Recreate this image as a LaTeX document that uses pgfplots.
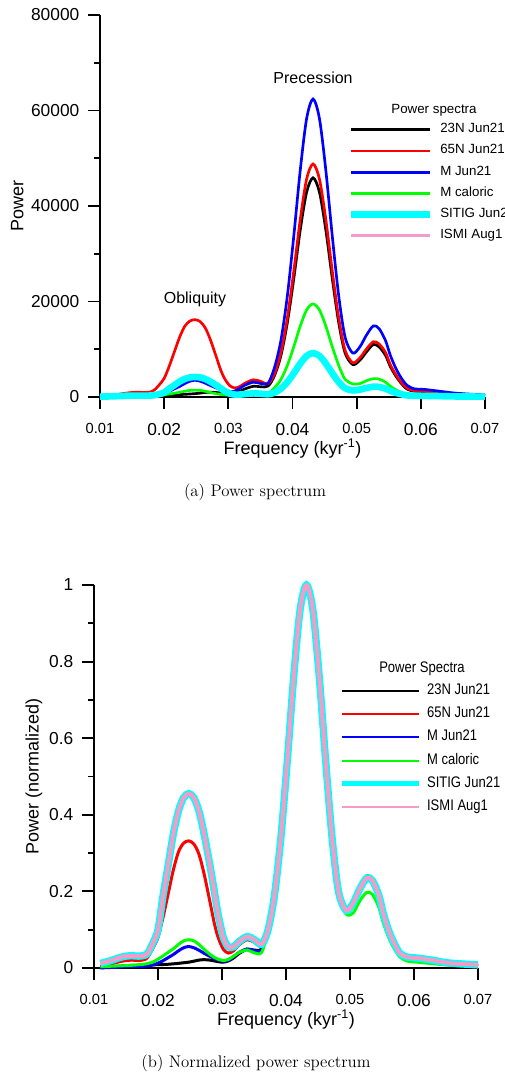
\documentclass[border=0pt]{standalone}
\usepackage{fontspec}
\newfontfamily\arial{Liberation Sans}
\newfontfamily\arialn[FakeStretch=0.85]{Liberation Sans}
\usepackage{pgfplots}
\usepackage{pgfplotstable}
\pgfplotsset{compat=1.18}

\definecolor{lgreen}{RGB}{0,255,0}
\definecolor{lcyan}{RGB}{0,255,255}
\definecolor{lpink}{RGB}{245,155,200}
\newcommand\sm{\fontsize{11}{11}\selectfont}

% frequency (kyr^-1) and power: A 23N Jun21, B 65N Jun21, C M Jun21, D M caloric, E SITIG Jun21 (ISMI Aug1 lies on it)
\pgfplotstableread{
f A B C D E
0.0100 0 50 0 50 75
0.0110 30 200 20 60 110
0.0120 80 400 60 80 150
0.0130 150 600 100 95 195
0.0140 220 800 150 110 250
0.0150 280 950 200 120 285
0.0160 310 1000 230 140 295
0.0170 330 950 260 165 285
0.0180 350 1100 300 200 310
0.0185 360 1500 360 240 385
0.0192 380 2500 500 300 600
0.0200 400 3900 800 450 920
0.0208 420 6500 1200 620 1750
0.0216 450 9500 1700 800 2480
0.0224 500 12500 2200 980 3220
0.0232 560 14800 2800 1200 3770
0.0240 630 15900 3300 1380 4090
0.0248 700 16200 3500 1440 4190
0.0256 820 15800 3300 1380 4090
0.0264 950 14500 2900 1200 3770
0.0272 1000 12000 2400 950 3220
0.0281 950 8500 1900 700 2480
0.0288 850 5700 1550 540 1840
0.0294 760 3900 1300 450 1290
0.0302 700 2400 1100 380 740
0.0310 850 1900 1250 440 510
0.0318 1200 2200 1800 600 510
0.0326 1700 2900 2500 780 625
0.0339 2250 3600 3100 920 755
0.0350 2150 3300 2850 780 690
0.0362 2300 2800 2900 800 570
0.0372 4500 4880 6200 1950 920
0.0382 8700 9270 11900 3700 1750
0.0392 15600 16590 21200 6630 3130
0.0402 24800 26350 33700 10530 4970
0.0412 34900 37090 47400 14820 6990
0.0422 42900 45630 58300 18230 8600
0.0432 45900 48800 62400 19500 9200
0.0442 42900 45630 58300 18230 8600
0.0452 34900 37090 47400 14820 6990
0.0462 24800 26350 33700 10530 4970
0.0472 15600 16590 21200 6630 3130
0.0482 9200 9760 12500 3700 1840
0.0494 6800 7170 9200 2750 1380
0.0505 7700 8200 10500 2800 1560
0.0515 9400 10000 12900 3400 1890
0.0526 11000 11570 14900 3850 2160
0.0535 10500 11100 14300 3750 2100
0.0545 8700 9300 11800 3100 1750
0.0552 6500 6900 8900 2300 1310
0.0560 4600 4900 6300 1600 920
0.0568 3100 3300 4300 1050 625
0.0578 1700 1900 2500 560 350
0.0590 1200 1300 1700 350 260
0.0605 1100 1200 1600 300 240
0.0630 900 900 1200 220 185
0.0655 600 600 800 150 120
0.0700 300 300 400 80 75
}\spectra

\pgfplotsset{
  spec/.style={
    scale only axis, xmin=0.01, xmax=0.07, ymin=0,
    axis lines=left, axis line style={-, line width=1.4pt},
    tick style={black, line width=1.4pt}, tick align=outside,
    major tick length=9pt, minor tick length=4.5pt,
    minor y tick num=1,
    xtick={0.01,0.02,0.03,0.04,0.05,0.06,0.07},
    xticklabels={{\sm 0.01},0.02,{\sm 0.03},0.04,{\sm 0.05},0.06,{\sm 0.07}},
    scaled x ticks=false, scaled y ticks=false,
    tick label style={font=\arial\fontsize{13}{13}\selectfont},
    xticklabel style={yshift=-7.5pt},
    yticklabel style={xshift=-3pt},
    /pgf/number format/assume math mode=true,
    /pgf/number format/1000 sep={},
    label style={font=\arial\fontsize{13.5}{13.5}\selectfont},
    xlabel={Frequency (kyr\textsuperscript{-1})},
    x label style={at={(axis description cs:0.5,0)}, anchor=center, yshift=-39pt},
    clip=false,
    legend cell align=left,
    every axis plot/.append style={smooth},
  }
}

\begin{document}
\begin{tikzpicture}
\useasboundingbox (0,0) rectangle (378pt,-804.75pt);

% (a) power spectrum
\begin{axis}[spec,
  at={(75pt,-297.75pt)}, anchor=south west,
  width=288.75pt, height=286.5pt,
  ymax=80000, ytick={0,20000,40000,60000,80000},
  ylabel={Power},
  y label style={at={(axis description cs:0,0.5)}, anchor=center, yshift=62pt},
  legend image code/.code={\draw[#1] (0pt,0pt) -- (59pt,0pt);},
  legend style={at={(0.644,0.717)}, anchor=north west, draw=none, fill=none,
    inner sep=0pt, outer sep=0pt, row sep=5.9pt, column sep=5.25pt,
    font=\arial\fontsize{10}{10}\selectfont,
    nodes={inner sep=0pt, text height=7.2pt, text depth=2.8pt}},
]
\addplot[lpink, line width=2pt, forget plot] table[x=f, y=E]{\spectra};
\addplot[black, line width=2pt, forget plot] table[x=f, y=A]{\spectra};
\addplot[red, line width=2pt, forget plot] table[x=f, y=B]{\spectra};
\addplot[blue, line width=2pt, forget plot] table[x=f, y=C]{\spectra};
\addplot[lgreen, line width=2pt, forget plot] table[x=f, y=D]{\spectra};
\addplot[lcyan, line width=5pt, forget plot] table[x=f, y=E]{\spectra};
\addlegendimage{black, line width=2pt}\addlegendentry{23N Jun21}
\addlegendimage{red, line width=2pt}\addlegendentry{65N Jun21}
\addlegendimage{blue, line width=2pt}\addlegendentry{M Jun21}
\addlegendimage{lgreen, line width=2pt}\addlegendentry{M caloric}
\addlegendimage{lcyan, line width=5pt}\addlegendentry{SITIG Jun21}
\addlegendimage{lpink, line width=2pt}\addlegendentry{ISMI Aug1}
\node[font=\arial\fontsize{12}{12}\selectfont] at (axis cs:0.0432,66800) {Precession};
\node[font=\arial\fontsize{12}{12}\selectfont] at (axis cs:0.0248,20500) {Obliquity};
\end{axis}
\node[font=\arial\fontsize{10}{10}\selectfont] at (325.5pt,-82.5pt) {Power spectra};
\node[font=\fontsize{12.6}{15}\selectfont] at (191.25pt,-369pt) {(a) Power spectrum};

% (b) normalized power spectrum
\begin{axis}[spec,
  at={(70.5pt,-726pt)}, anchor=south west,
  width=288pt, height=287.25pt,
  ymax=1, ytick={0,0.2,0.4,0.6,0.8,1},
  xticklabel style={yshift=0.5pt},
  ylabel={Power (normalized)},
  y label style={at={(axis description cs:0,0.5)}, anchor=center, yshift=45pt},
  restrict x to domain=0.0105:0.071,
  legend image code/.code={\draw[#1] (0pt,0pt) -- (57.75pt,0pt);},
  legend style={at={(0.640,0.743)}, anchor=north west, draw=none, fill=none,
    inner sep=0pt, outer sep=0pt, row sep=6.15pt, column sep=3.75pt,
    font=\arialn\fontsize{11.5}{11.5}\selectfont,
    nodes={inner sep=0pt, text height=8.25pt, text depth=3pt}},
]
\addplot[black, line width=2.25pt, forget plot] table[x=f, y expr=\thisrow{A}/45900]{\spectra};
\addplot[red, line width=2.25pt, forget plot] table[x=f, y expr=\thisrow{B}/48800]{\spectra};
\addplot[blue, line width=2.25pt, forget plot] table[x=f, y expr=\thisrow{C}/62400]{\spectra};
\addplot[lgreen, line width=2.25pt, forget plot] table[x=f, y expr=\thisrow{D}/19500]{\spectra};
\addplot[lcyan, line width=5.5pt, forget plot] table[x=f, y expr=\thisrow{E}/9200]{\spectra};
\addplot[lpink, line width=3pt, forget plot] table[x=f, y expr=\thisrow{E}/9200]{\spectra};
\addlegendimage{black, line width=1.5pt}\addlegendentry{23N Jun21}
\addlegendimage{red, line width=1.5pt}\addlegendentry{65N Jun21}
\addlegendimage{blue, line width=1.5pt}\addlegendentry{M Jun21}
\addlegendimage{lgreen, line width=1.5pt}\addlegendentry{M caloric}
\addlegendimage{lcyan, line width=4pt}\addlegendentry{SITIG Jun21}
\addlegendimage{lpink, line width=1.5pt}\addlegendentry{ISMI Aug1}
\end{axis}
\node[font=\arialn\fontsize{11.5}{11.5}\selectfont] at (316.5pt,-501.75pt) {Power Spectra};
\node[font=\fontsize{12.6}{15}\selectfont] at (192pt,-797.25pt) {(b) Normalized power spectrum};
\end{tikzpicture}
\end{document}
